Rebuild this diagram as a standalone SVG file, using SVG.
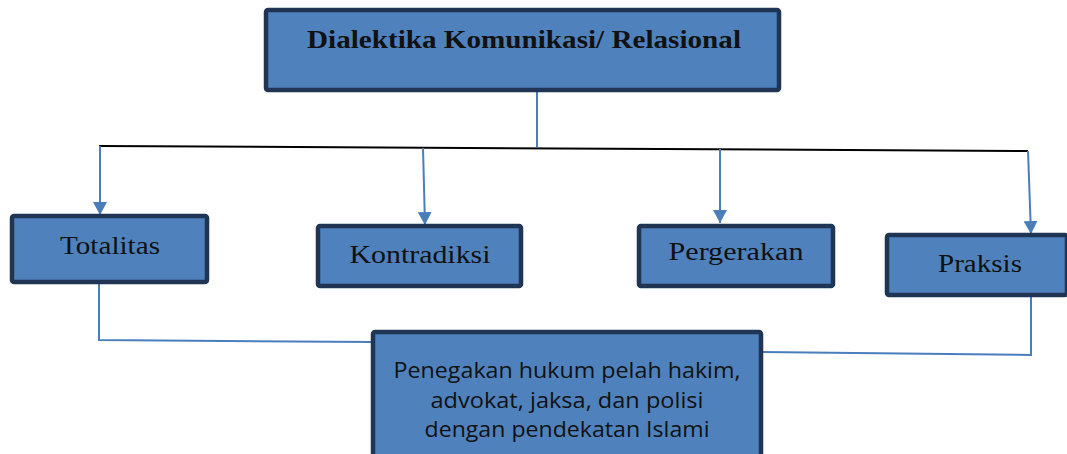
<svg xmlns="http://www.w3.org/2000/svg" width="1067" height="454" viewBox="0 0 1067 454">
<style>
.box{fill:#4f81bd;stroke:#1f3553;stroke-width:4.5}
.t{font-family:"Liberation Serif","DejaVu Serif",serif;font-size:25px;fill:#111;text-anchor:middle}
.tb{font-family:"Liberation Serif","DejaVu Serif",serif;font-size:25px;font-weight:bold;fill:#111;text-anchor:middle}
.s{font-family:"Open Sans","Noto Sans",sans-serif;font-size:22px;fill:#111;text-anchor:middle}
.c{fill:none;stroke:#4a7ebb;stroke-width:2}
</style>
<defs>
<marker id="ah" markerWidth="14" markerHeight="14" refX="13" refY="7" orient="auto" markerUnits="userSpaceOnUse">
<path d="M0,0 L13,7 L0,14 Z" fill="#4a7ebb"/>
</marker>
</defs>
<g id="connectors">
<line class="c" x1="537" y1="90" x2="537" y2="147"/>
<line x1="99" y1="146" x2="1028" y2="151" stroke="#000" stroke-width="2"/>
<line class="c" x1="100" y1="146" x2="100" y2="215" marker-end="url(#ah)"/>
<line class="c" x1="423" y1="148" x2="425" y2="225" marker-end="url(#ah)"/>
<line class="c" x1="720" y1="149" x2="720" y2="223" marker-end="url(#ah)"/>
<line class="c" x1="1028" y1="151" x2="1031" y2="234" marker-end="url(#ah)"/>
<polyline class="c" points="99,283 99,340 372,342"/>
<polyline class="c" points="1031,296 1031,355 762,352"/>
</g>
<g id="n-top">
<rect class="box" x="266" y="10" width="513" height="80" rx="2"/>
<text class="tb" x="524" y="48" textLength="434" lengthAdjust="spacingAndGlyphs">Dialektika Komunikasi/ Relasional</text>
</g>
<g id="n-totalitas">
<rect class="box" x="12" y="216" width="195" height="66" rx="2"/>
<text class="t" x="110" y="254" textLength="100" lengthAdjust="spacingAndGlyphs">Totalitas</text>
</g>
<g id="n-kontradiksi">
<rect class="box" x="318" y="226" width="203" height="60" rx="2"/>
<text class="t" x="420" y="263" textLength="141" lengthAdjust="spacingAndGlyphs">Kontradiksi</text>
</g>
<g id="n-pergerakan">
<rect class="box" x="639" y="226" width="194" height="60" rx="2"/>
<text class="t" x="736" y="260" textLength="135" lengthAdjust="spacingAndGlyphs">Pergerakan</text>
</g>
<g id="n-praksis">
<rect class="box" x="887" y="235" width="180" height="60" rx="2"/>
<text class="t" x="980" y="272" textLength="84" lengthAdjust="spacingAndGlyphs">Praksis</text>
</g>
<g id="n-penegakan">
<rect class="box" x="373" y="332" width="388" height="126" rx="2"/>
<text class="s" x="567" y="378" textLength="347" lengthAdjust="spacingAndGlyphs">Penegakan hukum pelah hakim,</text>
<text class="s" x="567" y="408" textLength="273" lengthAdjust="spacingAndGlyphs">advokat, jaksa, dan polisi</text>
<text class="s" x="567" y="437" textLength="285" lengthAdjust="spacingAndGlyphs">dengan pendekatan Islami</text>
</g>
</svg>
